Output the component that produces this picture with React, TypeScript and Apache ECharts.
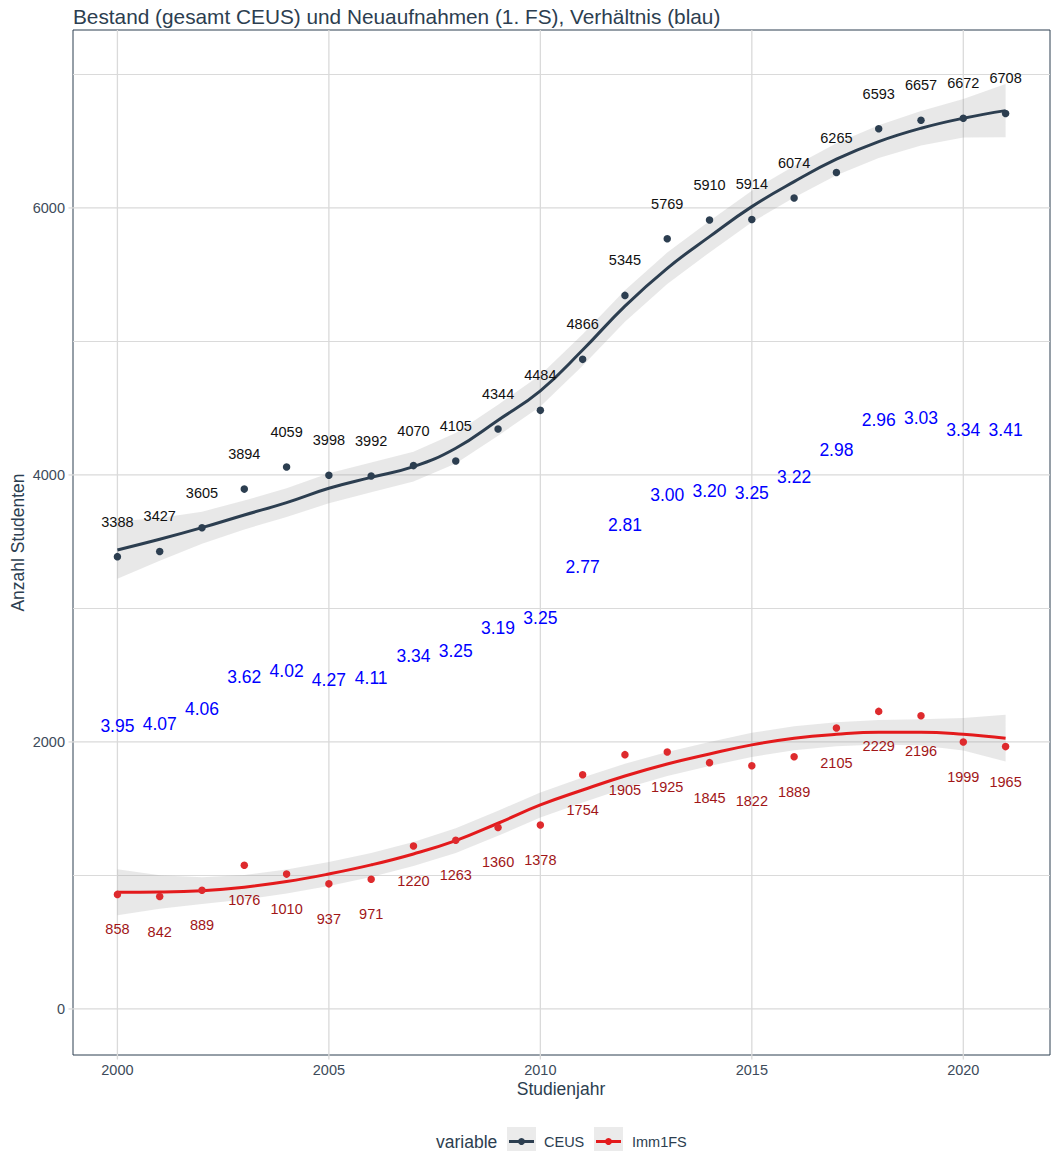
import React, { useEffect, useRef } from "react";
import * as echarts from "echarts";

const years = [2000, 2001, 2002, 2003, 2004, 2005, 2006, 2007, 2008, 2009, 2010, 2011, 2012, 2013, 2014, 2015, 2016, 2017, 2018, 2019, 2020, 2021];
const ceus = [3388, 3427, 3605, 3894, 4059, 3998, 3992, 4070, 4105, 4344, 4484, 4866, 5345, 5769, 5910, 5914, 6074, 6265, 6593, 6657, 6672, 6708];
const imm1fs = [858, 842, 889, 1076, 1010, 937, 971, 1220, 1263, 1360, 1378, 1754, 1905, 1925, 1845, 1822, 1889, 2105, 2229, 2196, 1999, 1965];

// loess fit and confidence band
const ceusFit = [3438, 3518, 3605, 3700, 3793, 3900, 3982, 4062, 4200, 4410, 4630, 4936, 5265, 5548, 5785, 6010, 6197, 6365, 6497, 6597, 6672, 6729];
const ceusLow = [3223, 3358, 3485, 3592, 3685, 3788, 3870, 3950, 4086, 4294, 4512, 4818, 5147, 5430, 5667, 5892, 6079, 6245, 6375, 6467, 6527, 6529];
const ceusHigh = [3653, 3678, 3725, 3808, 3901, 4012, 4094, 4174, 4314, 4526, 4748, 5054, 5383, 5666, 5903, 6128, 6315, 6485, 6619, 6727, 6817, 6929];
const immFit = [874, 876, 886, 912, 954, 1011, 1079, 1161, 1261, 1391, 1528, 1640, 1745, 1835, 1910, 1978, 2028, 2057, 2072, 2072, 2057, 2028];
const immLow = [702, 751, 786, 820, 864, 921, 989, 1071, 1169, 1297, 1434, 1546, 1653, 1745, 1820, 1888, 1938, 1967, 1980, 1974, 1935, 1853];
const immHigh = [1046, 1001, 986, 1004, 1044, 1101, 1169, 1251, 1353, 1485, 1622, 1734, 1837, 1925, 2000, 2068, 2118, 2147, 2164, 2170, 2179, 2203];

const yMajorTicks = [0, 2000, 4000, 6000];
const yMinorTicks = [1000, 3000, 5000, 7000];
const xMajorTicks = [2000, 2005, 2010, 2015, 2020];

const X_MIN = 1998.95;
const X_MAX = 2022.05;
const Y_MIN = -345;
const Y_MAX = 7333;

const FONT = "'Liberation Sans', Arial, Helvetica, sans-serif";
const DARK = "#2c3e50";
const TICK_TXT = "#3d4b5a";
const GRID = "#dadada";
const RED = "#e31a1c";
const RED_PT = "#de2a2d";
const RED_TXT = "#a11618";
const RIBBON = "rgba(150,150,150,0.22)";

function ribbonSeries(low: number[], high: number[]) {
  return {
    type: "custom",
    silent: true,
    clip: false,
    z: 1,
    data: [[years[0], low[0]]],
    renderItem: (params: any, api: any) => {
      const pts: number[][] = [];
      for (let i = 0; i < years.length; i++) pts.push(api.coord([years[i], high[i]]));
      for (let i = years.length - 1; i >= 0; i--) pts.push(api.coord([years[i], low[i]]));
      return {
        type: "polygon",
        shape: { points: pts },
        style: { fill: RIBBON, stroke: "none" },
      };
    },
  };
}

export default function App() {
  const ref = useRef<HTMLDivElement>(null);

  useEffect(() => {
    if (!ref.current) return;
    const chart = echarts.init(ref.current, undefined, { renderer: "svg" });

    const ratioData = years.map((y, i) => [y, (ceus[i] + imm1fs[i]) / 2, ceus[i] / imm1fs[i]]);

    const legendY = 1141.5;
    const option: any = {
      animation: false,
      backgroundColor: "#ffffff",
      textStyle: { fontFamily: FONT },
      title: {
        text: "Bestand (gesamt CEUS) und Neuaufnahmen (1. FS), Verhältnis (blau)",
        left: 68,
        top: 1,
        textStyle: { fontFamily: FONT, fontSize: 20.8, fontWeight: "normal", color: DARK },
      },
      grid: {
        left: 73,
        top: 30,
        width: 977,
        height: 1025,
        show: true,
        borderColor: DARK,
        borderWidth: 1,
        backgroundColor: "transparent",
      },
      xAxis: {
        type: "value",
        min: X_MIN,
        max: X_MAX,
        show: false,
      },
      yAxis: {
        type: "value",
        min: Y_MIN,
        max: Y_MAX,
        show: false,
      },
      graphic: [
        {
          type: "text",
          x: 561,
          y: 1089,
          style: { text: "Studienjahr", font: `17.5px ${FONT}`, fill: DARK, align: "center", verticalAlign: "middle" },
        },
        {
          type: "text",
          x: 18,
          y: 542.5,
          rotation: Math.PI / 2,
          style: { text: "Anzahl Studenten", font: `17.5px ${FONT}`, fill: DARK, align: "center", verticalAlign: "middle" },
        },
        {
          type: "text",
          x: 436,
          y: legendY,
          style: { text: "variable", font: `17.5px ${FONT}`, fill: DARK, align: "left", verticalAlign: "middle" },
        },
        { type: "rect", shape: { x: 507, y: 1127, width: 29, height: 29 }, style: { fill: "#ebebeb" } },
        { type: "line", shape: { x1: 509, y1: legendY, x2: 534, y2: legendY }, style: { stroke: DARK, lineWidth: 3 } },
        { type: "circle", shape: { cx: 521.5, cy: legendY, r: 3.5 }, style: { fill: DARK } },
        {
          type: "text",
          x: 544,
          y: legendY,
          style: { text: "CEUS", font: `14.5px ${FONT}`, fill: DARK, align: "left", verticalAlign: "middle" },
        },
        { type: "rect", shape: { x: 594, y: 1127, width: 29, height: 29 }, style: { fill: "#ebebeb" } },
        { type: "line", shape: { x1: 596, y1: legendY, x2: 621, y2: legendY }, style: { stroke: RED, lineWidth: 3 } },
        { type: "circle", shape: { cx: 608.5, cy: legendY, r: 3.5 }, style: { fill: RED } },
        {
          type: "text",
          x: 632,
          y: legendY,
          style: { text: "Imm1FS", font: `14.5px ${FONT}`, fill: DARK, align: "left", verticalAlign: "middle" },
        },
      ],
      series: [
        // horizontal grid lines + y tick labels
        {
          type: "custom",
          silent: true,
          clip: false,
          z: 0,
          data: [...yMajorTicks.map((v) => [2010, v, 1]), ...yMinorTicks.map((v) => [2010, v, 0])],
          renderItem: (params: any, api: any) => {
            const v = api.value(1);
            const major = api.value(2) === 1;
            const p1 = api.coord([X_MIN, v]);
            const p2 = api.coord([X_MAX, v]);
            const children: any[] = [
              {
                type: "line",
                shape: { x1: p1[0], y1: p1[1], x2: p2[0], y2: p2[1] },
                style: { stroke: GRID, lineWidth: major ? 1.3 : 1.1 },
              },
            ];
            if (major) {
              children.push({
                type: "line",
                shape: { x1: p1[0] - 4.5, y1: p1[1], x2: p1[0], y2: p1[1] },
                style: { stroke: GRID, lineWidth: 1.3 },
              });
              children.push({
                type: "text",
                x: p1[0] - 8,
                y: p1[1],
                style: { text: String(v), font: `14.5px ${FONT}`, fill: TICK_TXT, align: "right", verticalAlign: "middle" },
              });
            }
            return { type: "group", children };
          },
        },
        // vertical grid lines + x tick labels
        {
          type: "custom",
          silent: true,
          clip: false,
          z: 0,
          data: xMajorTicks.map((v) => [v, 3000]),
          renderItem: (params: any, api: any) => {
            const v = api.value(0);
            const p1 = api.coord([v, Y_MIN]);
            const p2 = api.coord([v, Y_MAX]);
            return {
              type: "group",
              children: [
                {
                  type: "line",
                  shape: { x1: p1[0], y1: p1[1] + 4.5, x2: p2[0], y2: p2[1] },
                  style: { stroke: GRID, lineWidth: 1.3 },
                },
                {
                  type: "text",
                  x: p1[0],
                  y: p1[1] + 15,
                  style: { text: String(v), font: `14.5px ${FONT}`, fill: TICK_TXT, align: "center", verticalAlign: "middle" },
                },
              ],
            };
          },
        },
        ribbonSeries(ceusLow, ceusHigh),
        ribbonSeries(immLow, immHigh),
        {
          type: "line",
          name: "CEUS fit",
          data: years.map((y, i) => [y, ceusFit[i]]),
          smooth: 0.45,
          showSymbol: false,
          silent: true,
          z: 3,
          lineStyle: { color: DARK, width: 3 },
        },
        {
          type: "line",
          name: "Imm1FS fit",
          data: years.map((y, i) => [y, immFit[i]]),
          smooth: 0.45,
          showSymbol: false,
          silent: true,
          z: 3,
          lineStyle: { color: RED, width: 3 },
        },
        {
          type: "scatter",
          name: "CEUS",
          data: years.map((y, i) => [y, ceus[i]]),
          symbolSize: 7.5,
          z: 4,
          itemStyle: { color: DARK, opacity: 1 },
          label: {
            show: true,
            position: "inside",
            offset: [0, -35],
            formatter: (p: any) => String(p.value[1]),
            color: "#111111",
            fontSize: 14.5,
            fontFamily: FONT,
          },
        },
        {
          type: "scatter",
          name: "Imm1FS",
          data: years.map((y, i) => [y, imm1fs[i]]),
          symbolSize: 7.5,
          z: 4,
          itemStyle: { color: RED_PT, opacity: 1 },
          label: {
            show: true,
            position: "inside",
            offset: [0, 35],
            formatter: (p: any) => String(p.value[1]),
            color: RED_TXT,
            fontSize: 14.5,
            fontFamily: FONT,
          },
        },
        {
          type: "scatter",
          name: "Verhältnis",
          data: ratioData,
          symbolSize: 0,
          z: 5,
          itemStyle: { color: "#0000ff", opacity: 1 },
          label: {
            show: true,
            position: "inside",
            formatter: (p: any) => p.value[2].toFixed(2),
            color: "#0000ff",
            opacity: 1,
            fontSize: 17.5,
            fontFamily: FONT,
          },
        },
      ],
    };

    chart.setOption(option);
    return () => chart.dispose();
  }, []);

  return (
    <div
      ref={ref}
      style={{ position: "fixed", left: 0, top: 0, width: 1055, height: 1151, background: "#fff" }}
    />
  );
}
